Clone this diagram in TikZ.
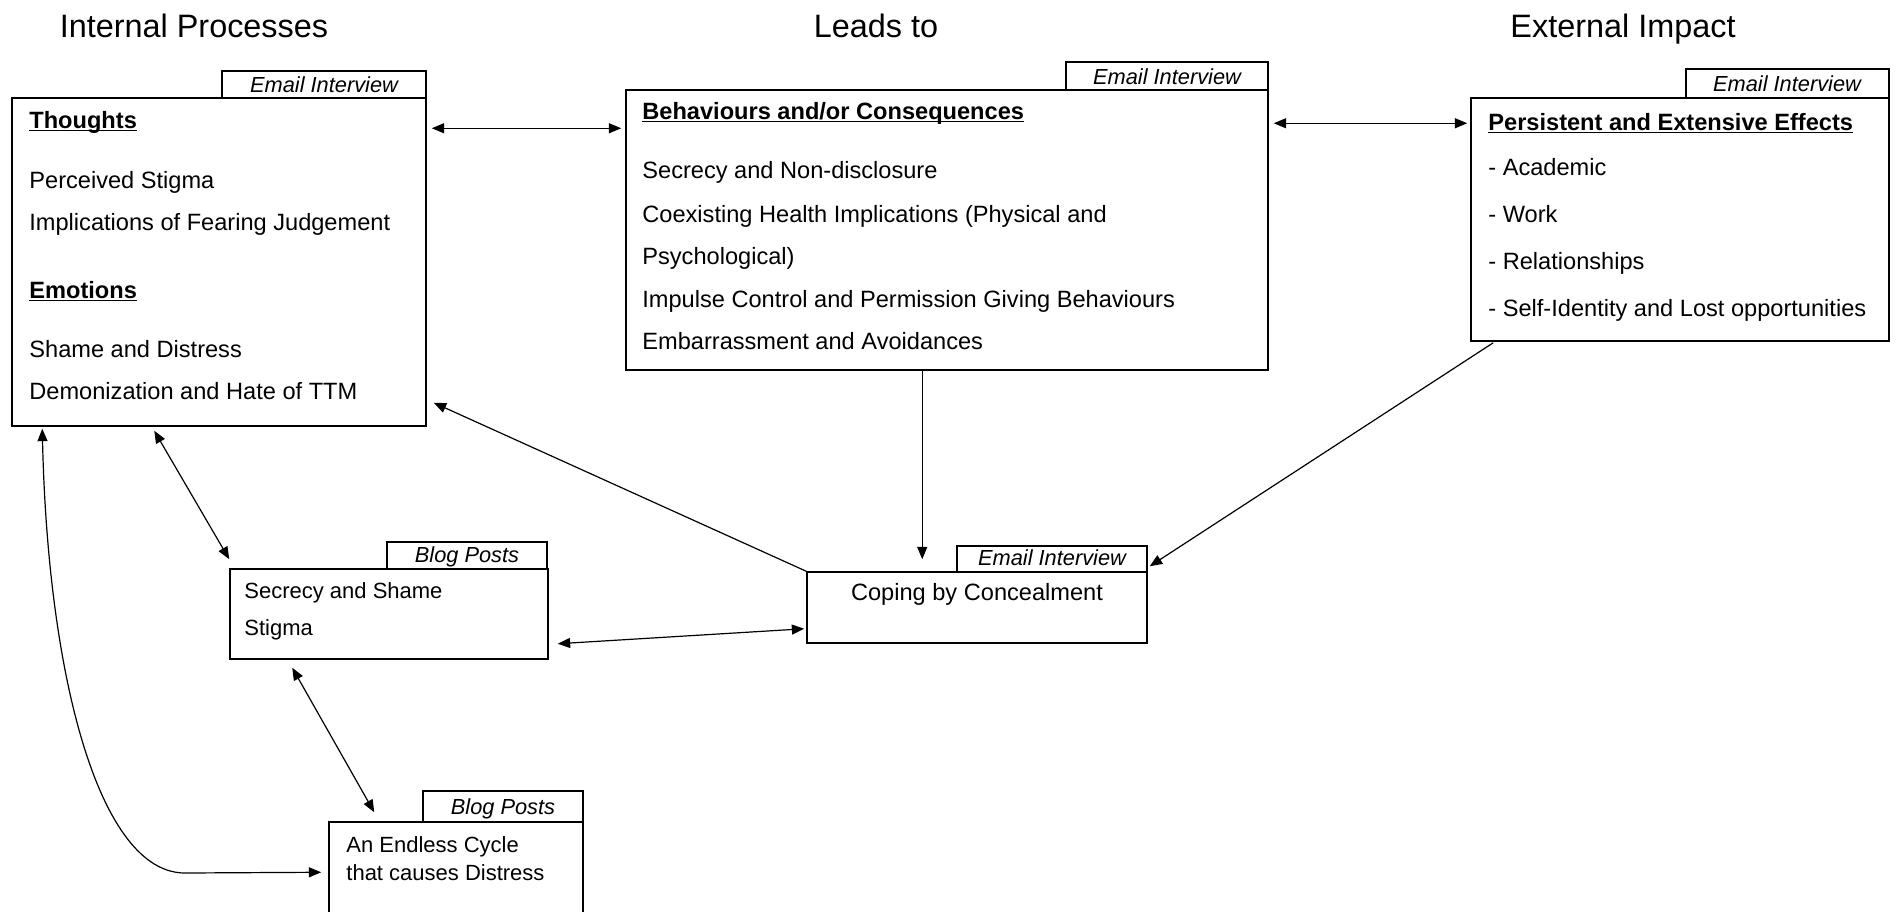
\documentclass[tikz,border=0pt]{standalone}
\usepackage{fontspec}
\setmainfont{Liberation Sans}
\usetikzlibrary{arrows.meta,calc,fit}
% bold heading with a rule just under the baseline
\newcommand\ulbf[1]{\setbox0\hbox{\bfseries #1}\rlap{\rule[-1.6pt]{\wd0}{0.8pt}}\box0}
\tikzset{
  frame/.style={draw, line width=0.75pt, inner sep=0pt},
  srclabel/.style={font=\fontsize{10.9}{13}\selectfont\itshape, anchor=base, inner sep=0pt},
  body/.style={font=\fontsize{11.8}{14}\selectfont, anchor=base west, inner sep=0pt},
  bodysm/.style={font=\fontsize{11}{13}\selectfont, anchor=base west, inner sep=0pt},
  head/.style={font=\fontsize{16.2}{19}\selectfont, anchor=base, inner sep=0pt},
  link/.style={line width=0.6pt, -{Triangle[length=6.2pt,width=5pt]}},
  twoway/.style={line width=0.6pt, {Triangle[length=6.2pt,width=5pt]}-{Triangle[length=6.2pt,width=5pt]}},
}
\begin{document}
\begin{tikzpicture}[x=0.5pt, y=-0.5pt]
\useasboundingbox (0,0) rectangle (1896,911);
\clip (0,0) rectangle (1896,911);

% column headings
\node[head] (hInt) at (194,37) {Internal Processes};
\node[head] (hLead) at (876,37) {Leads to};
\node[head] (hExt) at (1623,37) {External Impact};

% ---------- Thoughts / Emotions ----------
\node[frame, fit={(222,71) (426,98)}] (tabT) {};
\node[srclabel] (tabTl) at (324,92) {Email Interview};
\node[frame, fit={(12,98) (426,426)}] (thoughts) {};
\node[body] (th0) at (29,128) {\ulbf{Thoughts}};
\node[body] (th1) at (29,188) {Perceived Stigma};
\node[body] (th2) at (29,230) {Implications of Fearing Judgement};
\node[body] (th3) at (29,298) {\ulbf{Emotions}};
\node[body] (th4) at (29,357) {Shame and Distress};
\node[body] (th5) at (29,399) {Demonization and Hate of TTM};

% ---------- Behaviours ----------
\node[frame, fit={(1066,62) (1268,90)}] (tabB) {};
\node[srclabel] (tabBl) at (1167,84) {Email Interview};
\node[frame, fit={(626,90) (1268,370)}] (behav) {};
\node[body] (be0) at (642,119) {\ulbf{Behaviours and/or Consequences}};
\node[body] (be1) at (642,178) {Secrecy and Non-disclosure};
\node[body] (be2) at (642,222) {Coexisting Health Implications (Physical and};
\node[body] (be3) at (642,264) {Psychological)};
\node[body] (be4) at (642,307) {Impulse Control and Permission Giving Behaviours};
\node[body] (be5) at (642,349) {Embarrassment and Avoidances};

% ---------- Persistent effects ----------
\node[frame, fit={(1686,69) (1889,98)}] (tabP) {};
\node[srclabel] (tabPl) at (1787,91) {Email Interview};
\node[frame, fit={(1471,98) (1889,341)}] (persist) {};
\node[body] (pe0) at (1488,130) {\ulbf{Persistent and Extensive Effects}};
\node[body] (pe1) at (1488,175) {- Academic};
\node[body] (pe2) at (1488,222) {- Work};
\node[body] (pe3) at (1488,269) {- Relationships};
\node[body] (pe4) at (1488,316) {- Self-Identity and Lost opportunities};

% ---------- Secrecy and Shame ----------
\node[frame, fit={(387,542) (547,569)}] (tabS) {};
\node[srclabel] (tabSl) at (467,562) {Blog Posts};
\node[frame, fit={(230,569) (548,659)}] (secrecy) {};
\node[bodysm] (se1) at (244,598) {Secrecy and Shame};
\node[bodysm] (se2) at (244,635) {Stigma};

% ---------- Coping by Concealment ----------
\node[frame, fit={(957,546) (1147,572)}] (tabC) {};
\node[srclabel] (tabCl) at (1052,565) {Email Interview};
\node[frame, fit={(807,572) (1147,643)}] (coping) {};
\node[body, anchor=base] (co1) at (977,600) {Coping by Concealment};

% ---------- Endless cycle ----------
\node[frame, fit={(423,791) (583,822)}] (tabE) {};
\node[srclabel] (tabEl) at (503,814) {Blog Posts};
\node[frame, fit={(329,822) (583,935)}] (endless) {};
\node[bodysm] (en1) at (346,852) {An Endless Cycle};
\node[bodysm] (en2) at (346,880) {that causes Distress};

% ---------- connectors ----------
\draw[twoway] ($(thoughts.north east)+(5,31)$) -- ($(behav.north west)+(-4,39)$);
\draw[twoway] ($(behav.north east)+(5,34)$) -- ($(persist.north west)+(-3,26)$);
\draw[link] ($(behav.south west)+(297,0)$) -- ($(coping.north west)+(116,-12)$);
\draw[link] ($(persist.south west)+(23,1)$) -- ($(coping.north east)+(2,-5)$);
\draw[link] (coping.north west) -- ($(thoughts.south east)+(7,-24)$);
\draw[twoway] ($(thoughts.south west)+(143,4)$) -- ($(secrecy.north west)+(0,-9)$);
\draw[twoway] ($(secrecy.south east)+(9,-16)$) -- ($(coping.south west)+(-2,-15)$);
\draw[twoway] ($(secrecy.south west)+(63,8)$) -- ($(endless.north west)+(46,-9)$);
\draw[twoway] ($(thoughts.south west)+(31,2)$)
  .. controls (48,680) and (100,873) .. (185,873)
  -- ($(endless.north west)+(-7,51)$);
\end{tikzpicture}
\end{document}
